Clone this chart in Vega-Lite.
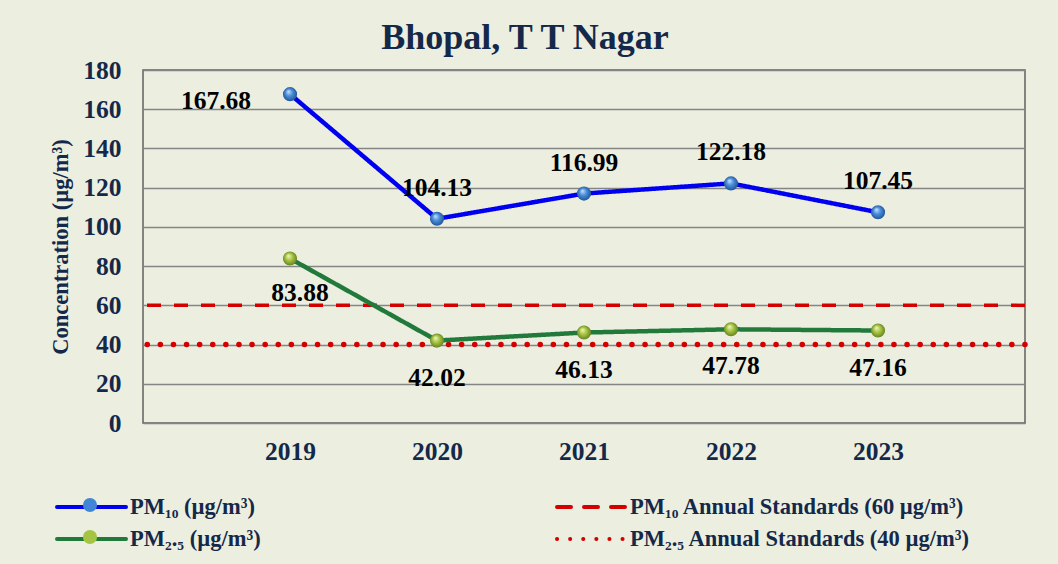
{
  "$schema": "https://vega.github.io/schema/vega-lite/v6.json",
  "width": 882,
  "height": 353,
  "autosize": "none",
  "padding": {"left": 143, "top": 70, "right": 33, "bottom": 141},
  "background": "#ECEFE0",
  "title": {
    "text": "Bhopal, T T Nagar",
    "font": "Liberation Serif",
    "fontSize": 36,
    "fontWeight": "bold",
    "color": "#14284A",
    "anchor": "middle",
    "frame": "group",
    "dx": -59,
    "offset": 1
  },
  "config": {
    "view": {"stroke": "#606060", "strokeWidth": 1.5, "fill": null},
    "axis": {
      "labelFont": "Liberation Serif",
      "labelFontWeight": "bold",
      "labelFontSize": 25.5,
      "labelColor": "#14284A",
      "titleFont": "Liberation Serif",
      "titleFontWeight": "bold",
      "titleFontSize": 22.5,
      "titleColor": "#14284A",
      "ticks": false,
      "domain": false,
      "labelOverlap": false,
      "labelFlush": false,
      "labelBound": false
    },
    "legend": {
      "labelFont": "Liberation Serif",
      "labelFontWeight": "bold",
      "labelFontSize": 22.5,
      "labelColor": "#14284A",
      "labelLimit": 600
    }
  },
  "datasets": {
    "pm": [
      {"year": 2019, "series": "PM₁₀ (µg/m³)", "value": 167.68},
      {"year": 2020, "series": "PM₁₀ (µg/m³)", "value": 104.13},
      {"year": 2021, "series": "PM₁₀ (µg/m³)", "value": 116.99},
      {"year": 2022, "series": "PM₁₀ (µg/m³)", "value": 122.18},
      {"year": 2023, "series": "PM₁₀ (µg/m³)", "value": 107.45},
      {"year": 2019, "series": "PM₂.₅ (µg/m³)", "value": 83.88},
      {"year": 2020, "series": "PM₂.₅ (µg/m³)", "value": 42.02},
      {"year": 2021, "series": "PM₂.₅ (µg/m³)", "value": 46.13},
      {"year": 2022, "series": "PM₂.₅ (µg/m³)", "value": 47.78},
      {"year": 2023, "series": "PM₂.₅ (µg/m³)", "value": 47.16}
    ],
    "std": [
      {"series": "PM₁₀ Annual Standards (60 µg/m³)", "value": 60},
      {"series": "PM₂.₅ Annual Standards (40 µg/m³)", "value": 40}
    ]
  },
  "encoding": {
    "y": {
      "field": "value", "type": "quantitative",
      "scale": {"domain": [0, 180], "nice": false},
      "axis": {"values": [0, 20, 40, 60, 80, 100, 120, 140, 160, 180], "grid": true, "gridColor": "#858585", "gridWidth": 1.5, "labelPadding": 22, "title": "Concentration (µg/m³)", "titlePadding": 10}
    }
  },
  "layer": [
    {
      "data": {"name": "std"},
      "transform": [{"filter": "datum.value === 60"}],
      "mark": {"type": "rule", "strokeWidth": 3.5, "strokeCap": "butt"},
      "encoding": {
        "color": {
          "field": "series", "type": "nominal",
          "scale": {
            "domain": ["PM₁₀ (µg/m³)", "PM₂.₅ (µg/m³)", "PM₁₀ Annual Standards (60 µg/m³)", "PM₂.₅ Annual Standards (40 µg/m³)"],
            "range": ["#0000F0", "#217A3C", "#D40000", "#D40000"]
          },
          "legend": {
            "title": null,
            "orient": "none",
            "legendX": -65,
            "legendY": 423.5,
            "columns": 2,
            "columnPadding": 288,
            "rowPadding": 7,
            "symbolType": "M-3,0H3",
            "symbolSize": 529,
            "symbolStrokeWidth": 4,
            "labelOffset": 25,
            "encode": {"symbols": {"update": {"strokeCap": {"value": "round"}}}}
          }
        },
        "strokeDash": {
          "field": "series", "type": "nominal",
          "scale": {
            "domain": ["PM₁₀ (µg/m³)", "PM₂.₅ (µg/m³)", "PM₁₀ Annual Standards (60 µg/m³)", "PM₂.₅ Annual Standards (40 µg/m³)"],
            "range": [[1, 0], [1, 0], [14, 13], [0.1, 13]]
          },
          "legend": null
        }
      }
    },
    {
      "data": {"name": "std"},
      "transform": [{"filter": "datum.value === 40"}],
      "mark": {"type": "rule", "strokeWidth": 5.5, "strokeCap": "round"},
      "encoding": {
        "color": {"field": "series", "type": "nominal"},
        "strokeDash": {"field": "series", "type": "nominal"}
      }
    },
    {
      "data": {"name": "pm"},
      "mark": {"type": "line", "strokeWidth": 4.5},
      "encoding": {
        "x": {
          "field": "year", "type": "quantitative",
          "scale": {"domain": [2018, 2024], "nice": false, "zero": false},
          "axis": {"values": [2019, 2020, 2021, 2022, 2023], "format": "d", "grid": false, "title": null, "labelPadding": 16}
        },
        "color": {"field": "series", "type": "nominal"},
        "strokeDash": {"field": "series", "type": "nominal"}
      }
    },
    {
      "data": {"name": "pm"},
      "transform": [{"filter": "datum.series === 'PM₁₀ (µg/m³)'"}],
      "mark": {
        "type": "point", "filled": true, "opacity": 1, "size": 200, "strokeWidth": 0,
        "fill": {"gradient": "radial", "x1": 0.38, "y1": 0.3, "r1": 0, "x2": 0.5, "y2": 0.5, "r2": 0.55,
          "stops": [{"offset": 0, "color": "#CFE6FF"}, {"offset": 0.45, "color": "#4A8EDB"}, {"offset": 1, "color": "#1D4E8E"}]}
      },
      "encoding": {
        "x": {"field": "year", "type": "quantitative"}
      }
    },
    {
      "data": {"name": "pm"},
      "transform": [{"filter": "datum.series === 'PM₂.₅ (µg/m³)'"}],
      "mark": {
        "type": "point", "filled": true, "opacity": 1, "size": 200, "strokeWidth": 0,
        "fill": {"gradient": "radial", "x1": 0.38, "y1": 0.3, "r1": 0, "x2": 0.5, "y2": 0.5, "r2": 0.55,
          "stops": [{"offset": 0, "color": "#F2FAC0"}, {"offset": 0.45, "color": "#A9C645"}, {"offset": 1, "color": "#5E7A1C"}]}
      },
      "encoding": {
        "x": {"field": "year", "type": "quantitative"}
      }
    },
    {
      "data": {"name": "pm"},
      "mark": {"type": "point", "filled": true, "opacity": 0, "size": 200},
      "encoding": {
        "x": {"field": "year", "type": "quantitative"},
        "fill": {
          "field": "series", "type": "nominal",
          "scale": {"domain": ["PM₁₀ (µg/m³)", "PM₂.₅ (µg/m³)"], "range": ["#4186D6", "#A6C443"]},
          "legend": {
            "title": null,
            "orient": "none",
            "legendX": -63,
            "legendY": 425,
            "symbolType": "circle",
            "symbolSize": 200,
            "symbolOpacity": 1,
            "symbolStrokeWidth": 0,
            "labelFontSize": 20,
            "labelExpr": "''",
            "rowPadding": 12
          }
        }
      }
    },
    {
      "data": {"name": "pm"},
      "transform": [{"filter": "datum.series === 'PM₁₀ (µg/m³)' && datum.year !== 2019"}],
      "mark": {"type": "text", "font": "Liberation Serif", "fontWeight": "bold", "fontSize": 25.5, "color": "#000000", "dy": -31, "baseline": "middle"},
      "encoding": {
        "x": {"field": "year", "type": "quantitative"},
        "text": {"field": "value", "type": "quantitative", "format": ".2f"}
      }
    },
    {
      "data": {"name": "pm"},
      "transform": [{"filter": "datum.series === 'PM₁₀ (µg/m³)' && datum.year === 2019"}],
      "mark": {"type": "text", "font": "Liberation Serif", "fontWeight": "bold", "fontSize": 25.5, "color": "#000000", "dx": -74, "dy": 7, "baseline": "middle"},
      "encoding": {
        "x": {"field": "year", "type": "quantitative"},
        "text": {"field": "value", "type": "quantitative", "format": ".2f"}
      }
    },
    {
      "data": {"name": "pm"},
      "transform": [{"filter": "datum.series === 'PM₂.₅ (µg/m³)' && datum.year !== 2019"}],
      "mark": {"type": "text", "font": "Liberation Serif", "fontWeight": "bold", "fontSize": 25.5, "color": "#000000", "dy": 37, "baseline": "middle"},
      "encoding": {
        "x": {"field": "year", "type": "quantitative"},
        "text": {"field": "value", "type": "quantitative", "format": ".2f"}
      }
    },
    {
      "data": {"name": "pm"},
      "transform": [{"filter": "datum.series === 'PM₂.₅ (µg/m³)' && datum.year === 2019"}],
      "mark": {"type": "text", "font": "Liberation Serif", "fontWeight": "bold", "fontSize": 25.5, "color": "#000000", "dx": 10, "dy": 34, "baseline": "middle"},
      "encoding": {
        "x": {"field": "year", "type": "quantitative"},
        "text": {"field": "value", "type": "quantitative", "format": ".2f"}
      }
    }
  ]
}
